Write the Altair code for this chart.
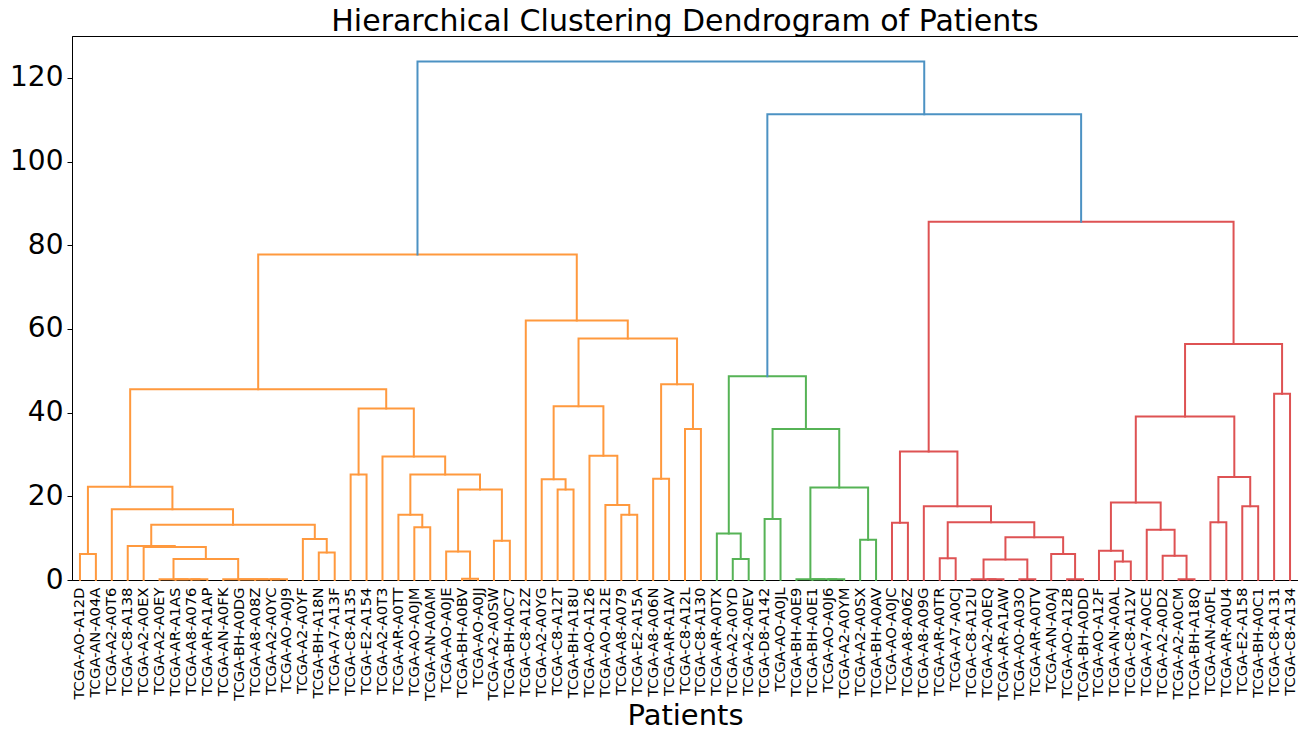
import altair as alt
import pandas as pd

# Leaf labels in dendrogram order (left to right)
leaf_labels = [
    "TCGA-AO-A12D", "TCGA-AN-A04A", "TCGA-A2-A0T6", "TCGA-C8-A138", "TCGA-A2-A0EX",
    "TCGA-A2-A0EY", "TCGA-AR-A1AS", "TCGA-A8-A076", "TCGA-AR-A1AP", "TCGA-AN-A0FK",
    "TCGA-BH-A0DG", "TCGA-A8-A08Z", "TCGA-A2-A0YC", "TCGA-AO-A0J9", "TCGA-A2-A0YF",
    "TCGA-BH-A18N", "TCGA-A7-A13F", "TCGA-C8-A135", "TCGA-E2-A154", "TCGA-A2-A0T3",
    "TCGA-AR-A0TT", "TCGA-AO-A0JM", "TCGA-AN-A0AM", "TCGA-AO-A0JE", "TCGA-BH-A0BV",
    "TCGA-AO-A0JJ", "TCGA-A2-A0SW", "TCGA-BH-A0C7", "TCGA-C8-A12Z", "TCGA-A2-A0YG",
    "TCGA-C8-A12T", "TCGA-BH-A18U", "TCGA-AO-A126", "TCGA-AO-A12E", "TCGA-A8-A079",
    "TCGA-E2-A15A", "TCGA-A8-A06N", "TCGA-AR-A1AV", "TCGA-C8-A12L", "TCGA-C8-A130",
    "TCGA-AR-A0TX", "TCGA-A2-A0YD", "TCGA-A2-A0EV", "TCGA-D8-A142", "TCGA-AO-A0JL",
    "TCGA-BH-A0E9", "TCGA-BH-A0E1", "TCGA-AO-A0J6", "TCGA-A2-A0YM", "TCGA-A2-A0SX",
    "TCGA-BH-A0AV", "TCGA-AO-A0JC", "TCGA-A8-A06Z", "TCGA-A8-A09G", "TCGA-AR-A0TR",
    "TCGA-A7-A0CJ", "TCGA-C8-A12U", "TCGA-A2-A0EQ", "TCGA-AR-A1AW", "TCGA-AO-A03O",
    "TCGA-AR-A0TV", "TCGA-AN-A0AJ", "TCGA-AO-A12B", "TCGA-BH-A0DD", "TCGA-AO-A12F",
    "TCGA-AN-A0AL", "TCGA-C8-A12V", "TCGA-A7-A0CE", "TCGA-A2-A0D2", "TCGA-A2-A0CM",
    "TCGA-BH-A18Q", "TCGA-AN-A0FL", "TCGA-AR-A0U4", "TCGA-E2-A158", "TCGA-BH-A0C1",
    "TCGA-C8-A131", "TCGA-C8-A134",
]
N = len(leaf_labels)

# Linkage (scipy-style): ids < N are leaves, id N+k is merge k
merge_left = [
    0, 7, 6, 5, 12, 11, 10, 9, 80, 4, 3, 15, 14, 87, 2, 77,
    17, 21, 20, 24, 23, 26, 97, 95, 19, 93, 92,
    30, 29, 34, 33, 32, 105, 36, 38, 110, 109, 28, 103,
    41, 40, 43, 47, 46, 45, 49, 121, 118, 117,
    51, 54, 57, 56, 59, 129, 62, 61, 131, 127, 53, 126,
    65, 64, 69, 68, 67, 139, 71, 73, 144, 143, 75, 147, 137, 125, 115,
]
merge_right = [
    1, 8, 78, 79, 13, 81, 82, 83, 84, 85, 86, 16, 88, 89, 90, 91,
    18, 22, 94, 25, 96, 27, 98, 99, 100, 101, 102,
    31, 104, 35, 106, 107, 108, 37, 39, 111, 112, 113, 114,
    42, 116, 44, 48, 119, 120, 50, 122, 123, 124,
    52, 55, 58, 128, 60, 130, 63, 132, 133, 134, 135, 136,
    66, 138, 70, 140, 141, 142, 72, 74, 145, 146, 76, 148, 149, 150, 151,
]
merge_height = [
    6.2, 0.2, 0.2, 0.2, 0.2, 0.2, 0.2, 0.2, 5.0, 7.9, 8.1, 6.6, 9.8, 13.2, 16.9, 22.3,
    25.2, 12.6, 15.6, 0.3, 6.8, 9.4, 21.6, 25.2, 29.5, 41.0, 45.6,
    21.6, 24.1, 15.6, 17.9, 29.7, 41.5, 24.2, 36.1, 46.8, 57.7, 62.0, 77.8,
    5.0, 11.1, 14.6, 0.2, 0.2, 0.2, 9.6, 22.1, 36.1, 48.7,
    13.7, 5.2, 0.2, 0.2, 0.2, 4.9, 0.2, 6.2, 10.2, 13.8, 17.6, 30.7,
    4.4, 7.0, 0.2, 5.8, 12.0, 18.5, 13.8, 17.6, 24.6, 39.1, 44.5, 56.4, 85.6, 111.3, 123.9,
]

cluster_colors = ["#ff993e", "#56b356", "#de5253"]  # orange, green, red clusters
above_color = "#4c92c3"
color_threshold = 0.7 * max(merge_height)

# compute node positions
pos = {i: 10 * i + 5 for i in range(N)}
hgt = {i: 0.0 for i in range(N)}
for k, (a, b, h) in enumerate(zip(merge_left, merge_right, merge_height)):
    nid = N + k
    pos[nid] = (pos[a] + pos[b]) / 2
    hgt[nid] = h

# assign colours: cluster roots are the highest nodes below threshold, left to right
node_color = {}
root = N + len(merge_height) - 1
counter = [0]


def assign(node, color):
    if node < N:
        return
    k = node - N
    h = merge_height[k]
    if color is None and h < color_threshold:
        color = cluster_colors[counter[0] % len(cluster_colors)]
        counter[0] += 1
    node_color[node] = color if color is not None else above_color
    assign(merge_left[k], color)
    assign(merge_right[k], color)


assign(root, None)

rows = []
for k, (a, b, h) in enumerate(zip(merge_left, merge_right, merge_height)):
    nid = N + k
    pts = [(pos[a], hgt[a]), (pos[a], h), (pos[b], h), (pos[b], hgt[b])]
    for j, (px, py) in enumerate(pts):
        rows.append({"link": nid, "order": j, "x": px, "y": py, "color": node_color[nid]})

df = pd.DataFrame(rows)

label_array = "[" + ",".join("'" + s + "'" for s in leaf_labels) + "]"
tick_values = [10 * i + 5 for i in range(N)]

chart = (
    alt.Chart(df)
    .mark_line(strokeWidth=2, strokeCap="square", strokeJoin="miter")
    .encode(
        x=alt.X(
            "x:Q",
            scale=alt.Scale(domain=[0, 10 * N], nice=False, zero=False),
            axis=alt.Axis(
                values=tick_values,
                labelExpr=label_array + "[round((datum.value - 5) / 10)]",
                labelAngle=-90,
                labelFontSize=14.8,
                labelFont="DejaVu Sans",
                labelColor="black",
                labelOverlap=False,
                labelFlush=False,
                labelBound=False,
                labelPadding=7,
                ticks=False,
                tickSize=0,
                domain=True,
                domainColor="black",
                domainWidth=1,
                grid=False,
                title="Patients",
                titleFontSize=29,
                titleFont="DejaVu Sans",
                titleFontWeight="normal",
                titleColor="black",
                titlePadding=1,
            ),
        ),
        y=alt.Y(
            "y:Q",
            scale=alt.Scale(domain=[0, 130], nice=False),
            axis=alt.Axis(
                values=[0, 20, 40, 60, 80, 100, 120],
                labelFontSize=28,
                labelFont="DejaVu Sans",
                labelColor="black",
                labelPadding=4,
                tickSize=5,
                tickColor="black",
                domain=True,
                domainColor="black",
                domainWidth=1,
                grid=False,
                title=None,
            ),
        ),
        color=alt.Color("color:N", scale=None),
        detail="link:N",
        order="order:Q",
    )
    .properties(
        width=1226,
        height=544,
        title=alt.TitleParams(
            "Hierarchical Clustering Dendrogram of Patients",
            fontSize=30,
            font="DejaVu Sans",
            fontWeight="normal",
            color="black",
            anchor="middle",
            offset=-1,
        ),
        autosize=alt.AutoSizeParams(type="none"),
        padding={"left": 64, "top": 28, "right": 0, "bottom": 154},
    )
    .configure(background="white")
    .configure_view(stroke="black", strokeWidth=1)
)

chart.save("out.html", embed_options={"renderer": "svg", "actions": False})
